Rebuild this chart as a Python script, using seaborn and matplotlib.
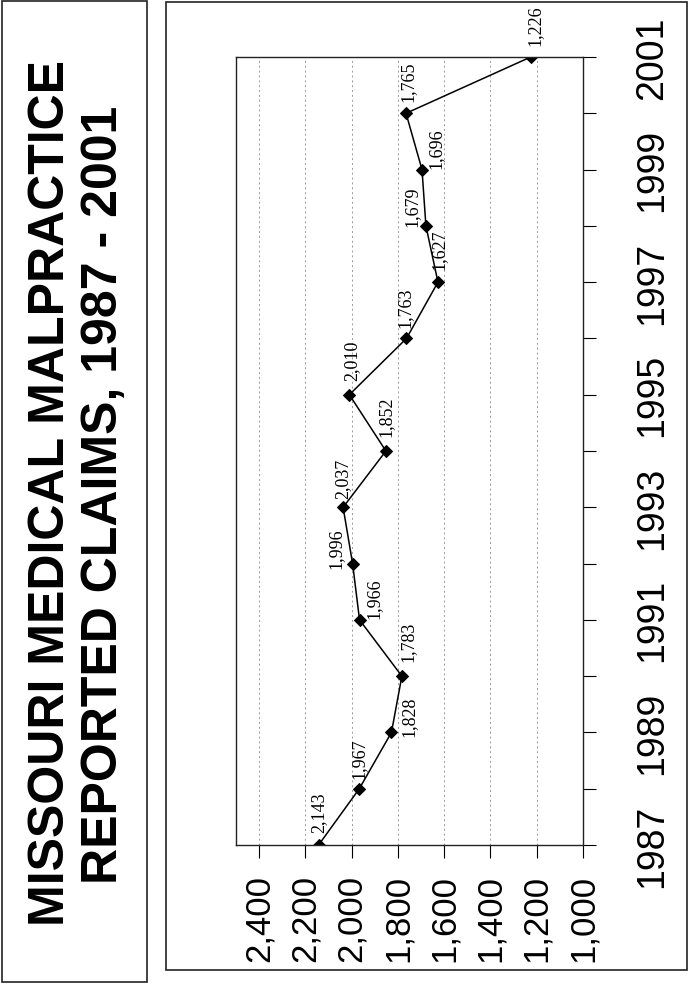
import matplotlib
matplotlib.use("Agg")
import matplotlib.pyplot as plt
from matplotlib.patches import Rectangle
import seaborn as sns
import pandas as pd

years = [1987, 1988, 1989, 1990, 1991, 1992, 1993, 1994, 1995, 1996, 1997, 1998, 1999, 2000, 2001]
claims = [2143, 1967, 1828, 1783, 1966, 1996, 2037, 1852, 2010, 1763, 1627, 1679, 1696, 1765, 1226]
value_ticks = [2400, 2200, 2000, 1800, 1600, 1400, 1200, 1000]
value_tick_labels = ["2,400", "2,200", "2,000", "1,800", "1,600", "1,400", "1,200", "1,000"]
year_tick_labels = ["1987", "", "1989", "", "1991", "", "1993", "", "1995", "", "1997", "", "1999", "", "2001"]
title_line1 = "MISSOURI MEDICAL MALPRACTICE"
title_line2 = "REPORTED CLAIMS, 1987 - 2001"

# label offsets in pixels (dx to the right, dy upward of label centre)
label_dx = [0, 0, 18, 6, 14, -17, 0, 0, 2, -1, 1, -14, 14, 2, 4]
label_dy = [33, 31, 17, 35, 22, 16, 29, 35, 35, 32, 33, 20, 22, 33, 32]

sns.set_theme(style="white")
plt.rcParams["font.family"] = ["Liberation Sans", "DejaVu Sans"]

W, H = 695, 987
fig = plt.figure(figsize=(W / 100, H / 100), dpi=100)
fig.patch.set_facecolor("white")

# outer boxes
fig.add_artist(Rectangle((2 / W, 1 - 983 / H), 145 / W, 981 / H, transform=fig.transFigure,
                         fill=False, edgecolor="#222222", linewidth=1.2))
fig.add_artist(Rectangle((166 / W, 1 - 971 / H), 521 / W, 968 / H, transform=fig.transFigure,
                         fill=False, edgecolor="#222222", linewidth=1.2))

# title (rotated)
fig.text(51 / W, 1 - 493 / H, title_line1, rotation=90, ha="center", va="center",
         fontsize=36, fontweight="bold", color="black")
fig.text(104 / W, 1 - 495 / H, title_line2, rotation=90, ha="center", va="center",
         fontsize=36, fontweight="bold", color="black")

ax = fig.add_axes([236 / W, 1 - 846 / H, 347 / W, 788 / H])
df = pd.DataFrame({"claims": claims, "year": years})
sns.lineplot(data=df, x="claims", y="year", sort=False, estimator=None, ax=ax,
             color="black", linewidth=1.1, marker="D", markersize=6,
             markerfacecolor="black", markeredgecolor="black")

ax.set_xlim(2500, 1000)
ax.set_ylim(1987, 2001)
ax.set_xlabel("")
ax.set_ylabel("")

ax.set_xticks(value_ticks)
ax.set_xticklabels(value_tick_labels, rotation=90, fontsize=25)
ax.set_yticks(years)
ax.yaxis.tick_right()
ax.set_yticklabels(year_tick_labels, rotation=90, va="center", fontsize=27)

ax.tick_params(axis="x", direction="out", length=9, width=0.8, pad=12, colors="black", bottom=True)
ax.tick_params(axis="y", direction="out", length=9, width=0.8, pad=28, colors="black", right=True, left=False)

for gx in value_ticks[:-1]:
    ax.axvline(gx, color="#999999", linewidth=0.7, linestyle=(0, (2, 3)), zorder=0)

for s in ax.spines.values():
    s.set_color("#222222")
    s.set_linewidth(1.0)
    s.set_visible(True)

for yr, v, dx, dy in zip(years, claims, label_dx, label_dy):
    ax.annotate(f"{v:,}", xy=(v, yr), xytext=(dx * 0.72, dy * 0.72), textcoords="offset points",
                rotation=90, ha="center", va="center", fontsize=13,
                family=["Liberation Serif", "DejaVu Serif"], color="black",
                annotation_clip=False)

fig.savefig("out.png", dpi=100, facecolor="white")
